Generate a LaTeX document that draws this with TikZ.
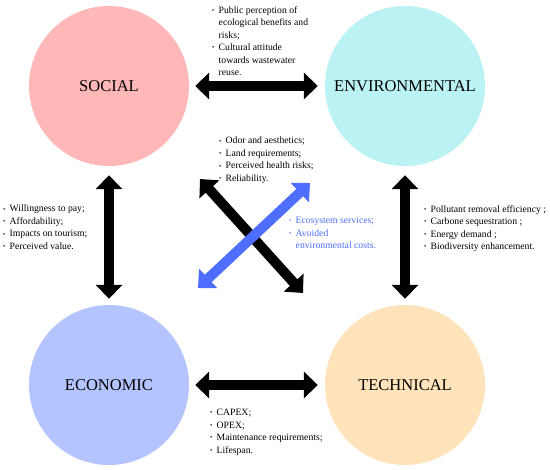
\documentclass[tikz,border=0pt]{standalone}
\usepackage{fontspec}
\setmainfont{Liberation Serif}
\usetikzlibrary{arrows.meta}
\definecolor{socc}{HTML}{FFB7B7}
\definecolor{envc}{HTML}{BBF2F4}
\definecolor{ecoc}{HTML}{B4C4FF}
\definecolor{tecc}{HTML}{FFE3BB}
\definecolor{bluec}{HTML}{4D6EFF}
\newcommand\bu{\makebox[6.5bp][l]{\raisebox{0.2ex}{\fontsize{6.5}{6.5}\selectfont\textbullet}}}
\newcommand\ind{\hspace*{6.5bp}}
\begin{document}
\begin{tikzpicture}[x=1bp,y=-1bp,
  circ/.style={circle,minimum size=160bp,inner sep=0pt,draw=none,font=\fontsize{16.5bp}{18bp}\selectfont},
  bigarrow/.style={line width=10bp,{Triangle[width=26bp,length=14bp]}-{Triangle[width=26bp,length=14bp]}},
  lst/.style={anchor=north west,align=left,inner sep=0pt,font=\fontsize{9.7bp}{12.5bp}\selectfont}]
\useasboundingbox[fill=white] (0,0) rectangle (550,470);
\node[circ,fill=socc] (soc) at (109,86) {SOCIAL};
\node[circ,fill=envc] (env) at (405,86) {ENVIRONMENTAL};
\node[circ,fill=ecoc] (eco) at (109,385) {ECONOMIC};
\node[circ,fill=tecc] (tec) at (405,385) {TECHNICAL};
% arrows
\draw[bigarrow,shorten <=6bp,shorten >=7bp] (soc) -- (env);
\draw[bigarrow,shorten <=6bp,shorten >=7bp] (eco) -- (tec);
\draw[bigarrow,shorten <=9bp,shorten >=6bp] (soc) -- (eco);
\draw[bigarrow,shorten <=9bp,shorten >=6bp] (env) -- (tec);
\coordinate (d1a) at (200,179);
\coordinate (d1b) at (303,293);
\coordinate (d2a) at (198,288);
\coordinate (d2b) at (310,183);
\draw[bigarrow] (d1a) -- (d1b);
\draw[bigarrow,draw=bluec,fill=bluec] (d2a) -- (d2b);
% lists
\node[lst] (t1) at (212,6) {\bu Public perception of\\ \ind ecological benefits and\\ \ind risks;\\ \bu Cultural attitude\\ \ind towards wastewater\\ \ind reuse.};
\node[lst] (t2) at (219,137) {\bu Odor and aesthetics;\\ \bu Land requirements;\\ \bu Perceived health risks;\\ \bu Reliability.};
\node[lst,text=bluec] (t3) at (289,217) {\bu Ecosystem services;\\ \bu Avoided\\ \ind environmental costs.};
\node[lst] (t4) at (3,205) {\bu Willingness to pay;\\ \bu Affordability;\\ \bu Impacts on tourism;\\ \bu Perceived value.};
\node[lst] (t5) at (424,205) {\bu Pollutant removal efficiency ;\\ \bu Carbone sequestration ;\\ \bu Energy demand ;\\ \bu Biodiversity enhancement.};
\node[lst] (t6) at (210,409) {\bu CAPEX;\\ \bu OPEX;\\ \bu Maintenance requirements;\\ \bu Lifespan.};
\end{tikzpicture}
\end{document}
